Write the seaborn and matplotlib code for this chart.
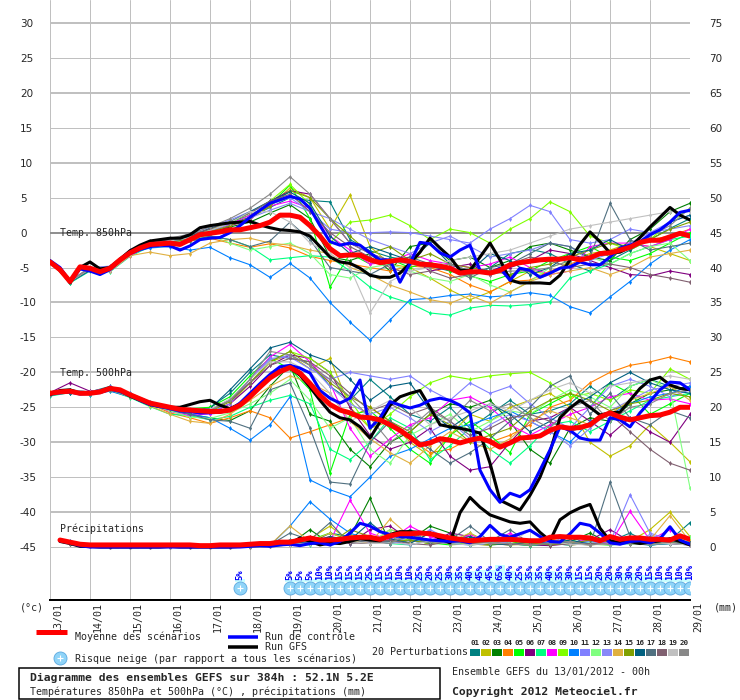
import numpy as np
import pandas as pd
import matplotlib
matplotlib.use("Agg")
import matplotlib.pyplot as plt
import matplotlib.transforms as mtransforms
from matplotlib.patches import Rectangle
import seaborn as sns

# Axe des temps (jours depuis le 13/01 00h)
dates = ["13/01", "14/01", "15/01", "16/01", "17/01", "18/01", "19/01", "20/01", "21/01",
         "22/01", "23/01", "24/01", "25/01", "26/01", "27/01", "28/01", "29/01"]
echeances_6h = np.arange(0, 385, 6) / 24.0
echeances_12h = np.arange(0, 385, 12) / 24.0
echeances_pluie_6h = np.arange(6, 385, 6) / 24.0
echeances_pluie_12h = np.arange(12, 385, 12) / 24.0

# Moyenne / controle / GFS, pas de 6h
moy_850 = [-4.2, -5.3, -7.0, -4.9, -5.1, -5.6, -5.1, -3.9, -2.9, -2.2,
           -1.7, -1.6, -1.5, -1.7, -1.0, -0.3, -0.1, 0.1, 0.4, 0.4,
           0.7, 1.0, 1.5, 2.5, 2.5, 2.2, 1.0, -0.5, -2.3, -3.3,
           -3.2, -3.2, -3.9, -4.3, -4.1, -3.9, -4.1, -4.5, -4.6, -4.8,
           -5.1, -5.8, -5.6, -5.6, -5.8, -5.4, -4.6, -4.3, -4.1, -3.9,
           -3.8, -3.8, -3.6, -3.9, -3.6, -3.0, -2.9, -2.5, -2.1, -1.4,
           -1.1, -1.1, -0.6, -0.1, -0.5]
gfs_850 = [-4.2, -5.2, -7.2, -5.0, -4.2, -5.2, -5.0, -3.8, -2.6, -1.8,
           -1.2, -1.0, -0.8, -0.8, -0.3, 0.7, 1.0, 1.2, 1.4, 1.5,
           1.6, 1.1, 0.7, 0.4, 0.3, 0.1, -0.5, -2.0, -3.5, -4.2,
           -4.4, -5.1, -6.1, -6.4, -6.4, -5.8, -4.4, -2.8, -0.8, -2.2,
           -3.5, -5.4, -5.4, -3.5, -1.5, -3.9, -6.8, -7.2, -7.2, -7.2,
           -7.3, -6.1, -3.9, -1.7, 0.1, -1.3, -2.9, -2.8, -2.1, -0.7,
           0.8, 2.2, 3.6, 2.5, 1.8]
ctrl_850 = [-4.0, -5.0, -7.0, -5.2, -5.5, -6.0, -5.3, -4.0, -3.0, -2.4,
            -2.0, -1.8, -1.9, -2.5, -1.9, -1.0, -0.8, -0.7, 0.0, 1.0,
            2.2, 3.2, 4.2, 4.7, 5.2, 4.8, 3.5, 1.0, -1.3, -1.8,
            -1.5, -1.8, -2.9, -3.9, -3.9, -7.1, -4.4, -1.4, -1.6, -2.9,
            -3.5, -2.5, -1.8, -5.4, -5.8, -5.1, -6.8, -5.1, -5.4, -6.4,
            -5.8, -5.1, -4.9, -4.2, -4.6, -4.6, -3.5, -2.2, -1.8, -1.3,
            -0.3, 0.4, 1.5, 2.9, 3.2]
moy_500 = [-23.0, -22.8, -22.7, -23.0, -23.0, -22.8, -22.3, -22.5, -23.2, -23.8,
           -24.4, -24.7, -25.0, -25.3, -25.4, -25.5, -25.6, -25.6, -25.4, -24.7,
           -23.5, -22.1, -20.8, -19.9, -19.3, -20.1, -21.6, -23.3, -24.6, -25.4,
           -25.8, -26.4, -26.5, -26.8, -27.5, -28.3, -29.3, -30.4, -30.1, -29.5,
           -29.7, -30.1, -29.7, -29.4, -29.9, -30.7, -30.1, -29.4, -29.3, -29.1,
           -28.3, -27.8, -28.0, -27.9, -27.5, -26.4, -25.8, -26.4, -26.8, -26.5,
           -26.2, -26.1, -25.7, -25.0, -25.0]
gfs_500 = [-23.2, -22.6, -22.5, -23.0, -23.0, -22.7, -22.2, -22.6, -23.4, -24.0,
           -24.6, -24.9, -25.0, -25.0, -24.6, -24.2, -24.0, -24.7, -25.2, -24.5,
           -23.3, -21.9, -20.6, -19.7, -19.4, -20.4, -22.1, -24.0, -25.7, -26.5,
           -26.8, -27.8, -29.4, -27.1, -24.7, -23.5, -23.0, -22.6, -25.0, -27.5,
           -27.8, -28.0, -28.3, -28.7, -33.0, -38.3, -39.0, -39.7, -37.6, -35.0,
           -31.4, -26.5, -25.1, -24.0, -25.0, -26.1, -25.8, -25.7, -24.0, -22.3,
           -21.1, -20.7, -21.8, -22.3, -22.5]
ctrl_500 = [-23.0, -22.9, -22.8, -23.1, -23.0, -22.9, -22.4, -22.7, -23.3, -24.0,
            -24.6, -24.9, -25.2, -25.5, -25.6, -25.8, -25.8, -25.7, -25.4, -24.4,
            -23.0, -21.6, -20.3, -19.2, -19.0, -19.4, -20.1, -22.6, -23.7, -24.4,
            -23.7, -21.1, -28.0, -26.5, -24.2, -24.7, -25.1, -24.7, -24.0, -23.7,
            -24.0, -24.7, -25.8, -34.0, -36.8, -38.6, -37.3, -37.8, -36.8, -34.0,
            -31.1, -27.8, -28.3, -29.4, -29.7, -29.7, -26.5, -26.8, -27.8, -25.8,
            -24.2, -22.5, -21.4, -21.5, -22.5]
moy_pluie = [1.0, 0.7, 0.4, 0.3, 0.3, 0.3, 0.3, 0.3, 0.3, 0.3,
             0.3, 0.3, 0.3, 0.3, 0.2, 0.2, 0.3, 0.3, 0.3, 0.4,
             0.5, 0.5, 0.7, 0.7, 1.0, 1.3, 1.0, 1.0, 1.1, 1.3,
             1.4, 1.4, 1.1, 1.6, 1.9, 1.9, 2.0, 1.9, 1.6, 1.3,
             1.1, 0.9, 1.0, 1.1, 1.1, 1.1, 1.0, 0.9, 0.9, 1.4,
             1.5, 1.4, 1.4, 1.3, 0.9, 1.5, 1.1, 1.3, 1.3, 1.1,
             1.1, 1.0, 1.6, 1.1]
gfs_pluie = [0.8, 0.5, 0.1, 0.1, 0.0, 0.0, 0.0, 0.0, 0.0, 0.0,
             0.0, 0.1, 0.0, 0.0, 0.0, 0.0, 0.0, 0.0, 0.1, 0.2,
             0.3, 0.4, 0.8, 0.5, 1.3, 0.8, 0.3, 0.6, 0.5, 0.8,
             1.2, 1.0, 0.9, 1.8, 2.2, 2.2, 2.1, 2.0, 1.2, 0.6,
             4.9, 7.1, 5.7, 4.6, 4.1, 3.6, 3.4, 3.6, 2.1, 0.9,
             3.9, 4.9, 5.6, 6.1, 2.7, 0.9, 0.6, 0.8, 0.5, 0.7,
             0.9, 1.2, 0.8, 0.3]
ctrl_pluie = [0.9, 0.6, 0.2, 0.0, 0.0, 0.0, 0.0, 0.0, 0.0, 0.0,
              0.0, 0.0, 0.0, 0.0, 0.0, 0.0, 0.0, 0.0, 0.0, 0.1,
              0.2, 0.1, 0.3, 0.4, 0.2, 0.5, 0.6, 0.3, 0.8, 2.0,
              3.4, 3.0, 2.2, 1.8, 1.5, 1.4, 1.2, 1.0, 0.9, 0.8,
              0.9, 0.6, 1.5, 3.1, 1.8, 1.4, 1.9, 2.4, 1.5, 0.8,
              0.7, 1.9, 3.4, 3.1, 2.0, 0.6, 0.4, 0.8, 0.9, 0.6,
              1.2, 2.9, 1.0, 0.4]

# Perturbations, pas de 12h : temperature 850 hPa
t850_01 = [-4.0, -7.2, -5.3, -5.0, -2.6, -1.4, -1.2, -0.5, 0.6, 1.3, 2.2,
           3.6, 5.0, 4.6, 4.4, -1.0, -2.6, -3.5, -4.0, -4.8, -5.5, -6.0,
           -5.0, -3.0, -2.4, -3.0, -4.5, -5.5, -4.0, -2.5, -1.0, 0.6, 2.0]
t850_02 = [-4.3, -6.9, -5.0, -4.9, -3.0, -1.9, -1.8, -0.9, 0.2, 1.0, 2.0,
           3.8, 6.4, 5.0, 0.5, 5.4, -2.0, -4.5, -5.0, -6.5, -8.2, -9.6,
           -8.5, -7.0, -5.5, -6.0, -4.0, -3.0, -2.5, -1.5, -2.0, -3.0, -4.0]
t850_03 = [-4.1, -7.1, -5.2, -5.3, -3.1, -1.6, -1.3, -0.8, 0.0, 0.8, 1.5,
           2.8, 4.0, 2.0, -3.5, -4.0, -3.0, -5.5, -2.0, -1.5, -4.0, -3.5,
           -5.0, -4.0, -2.0, -1.5, -2.5, -3.5, -4.0, -1.0, 0.5, 3.0, 4.2]
t850_04 = [-4.2, -7.0, -5.0, -5.2, -3.0, -2.0, -1.8, -1.2, -0.8, -1.5, -2.1,
           -1.6, -2.2, -3.4, -4.0, -4.5, -5.0, -5.5, -4.8, -5.0, -6.0, -7.5,
           -8.5, -7.0, -6.8, -5.5, -4.5, -3.5, -3.0, -2.0, -1.0, -0.5, 0.5]
t850_05 = [-4.2, -7.0, -5.2, -5.0, -2.8, -1.5, -1.4, -0.7, 0.3, 1.5, 2.5,
           4.0, 6.8, 2.0, -7.8, -3.0, -4.5, -3.8, -5.0, -4.2, -5.5, -6.2,
           -7.0, -6.0, -5.5, -4.0, -3.0, -2.0, -3.5, -4.0, -3.0, -1.5, 0.0]
t850_06 = [-4.4, -6.8, -5.3, -5.4, -3.2, -1.8, -1.5, -1.1, -0.3, 1.0, 1.8,
           4.5, 6.0, 5.5, 2.0, -1.5, -3.0, -4.0, -3.5, -5.5, -5.0, -4.5,
           -6.0, -5.0, -4.0, -2.5, -3.0, -4.0, -5.0, -6.0, -6.2, -5.5, -6.0]
t850_07 = [-4.0, -7.2, -5.5, -5.6, -3.4, -2.0, -1.7, -1.2, -0.5, -1.0, -2.0,
           -3.9, -3.6, -3.3, -3.5, -5.5, -7.8, -9.2, -10.1, -11.5, -11.8, -10.8,
           -10.4, -10.5, -10.3, -9.9, -6.5, -5.5, -4.5, -3.0, -2.0, -1.0, -0.5]
t850_08 = [-4.3, -6.9, -5.4, -5.5, -3.3, -1.8, -1.6, -1.0, 0.0, 1.2, 2.5,
           3.8, 4.5, 3.5, -0.5, -2.5, -4.5, -4.2, -3.0, -4.0, -4.5, -5.0,
           -4.5, -3.5, -5.0, -6.0, -5.5, -2.0, -1.5, -1.5, -2.0, -1.0, 0.5]
t850_09 = [-4.1, -7.0, -5.1, -5.1, -2.7, -1.5, -1.3, -0.7, 0.4, 1.6, 2.8,
           4.5, 6.9, 4.0, -1.5, 1.5, 1.8, 2.5, 1.0, -1.0, 0.5, 0.0,
           -1.5, 0.5, 2.0, 4.4, 3.0, -0.5, -1.5, -2.5, -1.0, 1.5, 3.5]
t850_10 = [-4.2, -7.1, -5.4, -5.3, -3.0, -2.2, -2.0, -2.5, -2.1, -3.6, -4.6,
           -6.4, -4.4, -6.5, -10.0, -12.8, -15.4, -12.5, -9.6, -9.4, -9.0, -8.8,
           -9.2, -9.0, -8.6, -9.0, -10.6, -11.5, -9.2, -7.0, -4.5, -2.5, -1.0]
t850_11 = [-4.0, -6.9, -5.0, -4.8, -2.5, -1.3, -1.0, -0.2, 0.8, 1.8, 3.0,
           4.0, 5.0, 3.0, 0.5, 0.0, 0.0, 0.1, 0.0, -0.5, -1.0, -1.5,
           0.5, 2.0, 3.9, 3.0, -1.0, -1.5, -1.0, 0.5, 0.0, 1.5, 2.5]
t850_12 = [-4.3, -7.0, -5.3, -5.0, -2.9, -1.7, -1.4, -1.0, -0.4, -1.5, -2.5,
           -2.0, -1.5, -3.0, -6.0, -6.5, -5.0, -4.5, -5.5, -6.5, -7.0, -6.0,
           -7.5, -8.5, -7.0, -5.0, -4.0, -3.5, -4.5, -3.0, -2.0, -1.5, -4.0]
t850_13 = [-4.1, -7.0, -5.1, -5.2, -2.7, -1.6, -1.4, -0.8, 0.3, 1.1, 2.1,
           3.2, 4.2, 3.0, 2.0, 0.5, -1.0, -2.0, -3.0, -1.5, -0.5, -2.0,
           -3.5, -3.0, -2.5, -1.5, -2.0, -4.0, -3.0, -1.5, 0.0, 0.5, 1.0]
t850_14 = [-4.2, -7.1, -5.3, -5.5, -3.3, -2.8, -3.3, -3.0, -1.5, -1.0, -0.8,
           -1.5, -1.8, -2.5, -3.0, -5.0, -6.0, -7.5, -8.5, -9.6, -10.1, -9.0,
           -10.1, -8.5, -7.0, -6.0, -5.5, -5.0, -6.0, -5.0, -3.5, -3.0, -2.5]
t850_15 = [-4.3, -7.0, -5.2, -5.1, -2.9, -1.7, -1.4, -0.9, 0.1, 1.0, 2.2,
           3.8, 6.0, 5.0, 2.0, -0.5, -3.0, -2.0, -4.0, -3.0, -4.5, -5.0,
           -5.5, -6.0, -5.0, -4.5, -3.5, -2.5, -1.5, -2.0, -1.0, 0.5, 1.5]
t850_16 = [-4.2, -7.1, -5.4, -5.2, -2.9, -1.6, -1.3, -0.6, 0.6, 1.5, 3.0,
           4.5, 5.8, 4.2, -0.5, -3.0, -2.0, -3.0, -4.0, -1.5, -4.5, -5.5,
           -3.0, -4.0, -6.0, -5.0, -3.0, -2.5, -1.0, -2.5, -0.5, 1.5, 2.5]
t850_17 = [-4.2, -7.0, -5.3, -5.1, -2.9, -1.8, -1.7, -1.2, -0.5, -1.0, -2.0,
           -1.2, 1.5, -1.0, -5.0, -5.5, -6.0, -4.5, -3.5, -4.5, -5.0, -6.5,
           -5.0, -4.5, -3.0, -1.5, -2.0, -3.5, 4.2, -1.0, -2.5, -2.0, -1.5]
t850_18 = [-4.1, -6.9, -5.1, -5.0, -2.7, -1.5, -1.0, -0.3, 0.5, 1.5, 2.8,
           4.5, 5.5, 3.0, 0.0, -2.0, -3.5, -5.0, -6.0, -5.5, -6.5, -6.0,
           -5.5, -4.5, -3.5, -4.0, -5.0, -4.5, -4.5, -5.0, -6.0, -6.5, -7.1]
t850_19 = [-4.3, -7.0, -5.2, -5.3, -3.0, -1.6, -1.2, -0.7, 0.3, 1.4, 3.0,
           3.0, 1.5, -1.5, -3.0, -5.0, -11.5, -7.0, -5.5, -5.0, -4.0, -3.5,
           -3.0, -2.5, -1.5, -0.5, 0.5, 1.0, 1.5, 2.0, 2.5, 3.0, 3.0]
t850_20 = [-4.2, -7.0, -5.1, -5.0, -2.6, -1.2, -0.8, -0.2, 0.8, 2.0, 3.5,
           5.5, 8.0, 5.5, 2.0, -1.5, -3.0, -4.0, -4.5, -5.0, -4.5, -5.5,
           -6.0, -5.5, -5.5, -5.0, -4.0, -3.5, -3.0, -2.0, -0.5, 1.0, 3.5]

# Perturbations, pas de 12h : temperature 500 hPa
t500_01 = [-23.3, -22.5, -22.8, -22.0, -23.0, -24.2, -25.3, -25.6, -25.0, -23.0, -20.0,
           -17.5, -18.0, -18.5, -22.0, -24.0, -21.0, -23.5, -26.0, -27.0, -25.0, -28.0,
           -26.0, -24.0, -26.0, -25.5, -24.5, -22.0, -24.0, -22.0, -21.0, -22.0, -22.5]
t500_02 = [-22.8, -22.9, -23.1, -22.5, -23.4, -24.6, -25.1, -25.5, -25.8, -24.5, -21.5,
           -18.5, -17.5, -19.5, -18.0, -25.0, -28.0, -27.0, -30.0, -32.0, -29.0, -26.0,
           -27.0, -25.0, -24.0, -23.0, -25.0, -30.0, -32.0, -30.5, -27.5, -30.0, -32.8]
t500_03 = [-23.1, -22.6, -22.9, -22.2, -23.1, -24.3, -25.2, -26.0, -26.5, -26.9, -25.5,
           -22.0, -19.0, -26.0, -27.0, -31.0, -33.5, -30.0, -28.5, -26.0, -24.5, -25.0,
           -24.0, -27.0, -31.0, -33.0, -28.0, -26.5, -27.0, -24.5, -23.0, -22.5, -22.0]
t500_04 = [-23.0, -22.8, -23.0, -22.4, -23.3, -24.5, -25.8, -26.5, -27.3, -26.5, -25.5,
           -26.5, -29.4, -28.5, -27.5, -26.5, -25.0, -27.0, -29.5, -31.5, -31.0, -29.5,
           -30.0, -29.0, -27.5, -25.0, -24.0, -21.5, -20.0, -19.0, -18.5, -17.8, -18.5]
t500_05 = [-23.2, -22.7, -22.8, -22.3, -23.2, -24.4, -25.0, -25.2, -25.0, -23.5, -20.5,
           -18.0, -19.5, -22.5, -34.4, -26.0, -25.5, -28.0, -31.0, -33.0, -29.0, -27.0,
           -29.0, -31.5, -26.0, -24.5, -23.0, -25.0, -21.5, -23.0, -26.0, -24.5, -23.0]
t500_06 = [-22.9, -21.5, -22.7, -22.3, -23.3, -24.6, -25.5, -26.0, -25.8, -24.5, -22.0,
           -19.0, -17.5, -18.0, -20.0, -25.0, -29.0, -31.0, -30.0, -28.0, -32.0, -34.0,
           -33.5, -30.0, -27.0, -26.5, -25.0, -27.0, -29.0, -26.5, -28.5, -30.0, -26.0]
t500_07 = [-23.4, -22.9, -23.2, -22.6, -23.6, -24.9, -26.0, -26.2, -26.8, -26.3, -25.0,
           -24.0, -23.3, -24.5, -31.0, -32.5, -30.0, -26.5, -28.0, -32.5, -30.5, -28.0,
           -31.0, -33.0, -30.5, -27.5, -27.0, -28.5, -27.0, -25.5, -24.0, -23.5, -23.0]
t500_08 = [-23.0, -22.7, -23.0, -22.1, -23.2, -24.5, -25.6, -26.2, -25.9, -24.5, -21.0,
           -17.8, -16.0, -18.5, -21.5, -28.0, -32.0, -29.5, -27.5, -26.5, -24.0, -23.5,
           -25.0, -27.5, -29.0, -27.5, -26.0, -25.0, -23.5, -23.0, -24.0, -23.8, -24.5]
t500_09 = [-23.1, -22.8, -22.9, -22.4, -23.3, -24.4, -25.1, -25.3, -25.5, -24.0, -21.5,
           -18.5, -17.0, -18.0, -20.0, -24.0, -28.0, -26.0, -23.5, -21.5, -20.5, -21.0,
           -20.5, -20.2, -20.0, -21.5, -23.5, -23.0, -24.0, -22.5, -23.0, -19.5, -21.0]
t500_10 = [-23.3, -22.9, -23.2, -22.7, -23.5, -24.6, -25.4, -26.0, -26.5, -28.0, -29.7,
           -27.5, -23.5, -35.4, -36.8, -37.8, -35.0, -32.0, -31.0, -29.5, -28.0, -27.5,
           -26.5, -25.5, -27.0, -28.5, -30.0, -27.0, -26.0, -24.5, -23.5, -23.0, -22.0]
t500_11 = [-22.9, -22.6, -22.8, -22.2, -23.0, -24.2, -25.0, -25.5, -25.7, -24.5, -21.0,
           -18.0, -17.8, -19.5, -21.0, -20.0, -20.5, -21.0, -20.5, -22.5, -24.0, -21.5,
           -23.0, -22.0, -24.5, -26.5, -28.0, -25.0, -22.0, -21.0, -22.0, -23.5, -22.5]
t500_12 = [-23.0, -22.8, -23.1, -22.5, -23.4, -24.7, -25.5, -26.4, -26.6, -25.8, -24.5,
           -23.0, -21.0, -24.0, -28.0, -26.5, -31.0, -33.0, -29.0, -27.5, -26.0, -28.5,
           -27.0, -25.5, -26.0, -24.0, -22.5, -23.5, -25.0, -22.0, -21.0, -22.5, -36.5]
t500_13 = [-23.2, -22.6, -22.9, -22.3, -23.1, -24.3, -25.2, -25.6, -25.4, -24.0, -21.0,
           -18.2, -17.5, -19.0, -22.0, -24.5, -26.0, -25.0, -26.5, -28.5, -27.0, -29.5,
           -27.5, -26.0, -27.0, -28.5, -30.5, -28.0, -25.5, -24.0, -22.5, -22.0, -21.5]
t500_14 = [-23.1, -22.8, -23.0, -22.5, -23.5, -24.8, -26.0, -27.0, -27.3, -26.0, -24.0,
           -22.0, -20.5, -21.5, -23.0, -27.0, -29.5, -31.5, -33.0, -30.5, -28.5, -30.0,
           -31.0, -29.5, -27.0, -25.5, -26.5, -27.5, -26.0, -24.0, -23.0, -22.0, -24.0]
t500_15 = [-23.0, -22.7, -23.0, -22.4, -23.2, -24.5, -25.2, -25.6, -25.6, -24.2, -21.5,
           -18.5, -17.0, -19.0, -21.5, -23.5, -25.0, -27.0, -28.5, -26.0, -27.5, -30.0,
           -29.0, -28.0, -25.5, -24.0, -23.0, -24.0, -25.5, -24.5, -24.0, -23.0, -23.5]
t500_16 = [-23.1, -22.9, -23.0, -22.4, -23.2, -24.4, -25.1, -25.4, -25.2, -22.5, -19.5,
           -16.5, -15.7, -17.5, -18.5, -21.0, -24.0, -22.0, -21.5, -25.5, -28.0, -26.0,
           -24.5, -26.0, -28.5, -27.0, -25.0, -23.5, -21.5, -20.0, -21.5, -22.5, -23.0]
t500_17 = [-23.2, -22.8, -23.1, -22.5, -23.4, -24.6, -25.3, -26.0, -26.8, -27.0, -28.0,
           -22.5, -21.5, -28.0, -35.7, -36.0, -30.0, -27.0, -29.0, -31.0, -33.0, -31.5,
           -29.5, -27.0, -25.0, -22.0, -20.5, -26.0, -23.0, -26.5, -27.5, -25.5, -26.5]
t500_18 = [-22.9, -22.7, -22.9, -22.2, -23.1, -24.3, -25.0, -25.3, -25.3, -24.0, -21.5,
           -19.0, -18.0, -18.5, -20.5, -23.0, -25.5, -24.5, -26.0, -25.0, -27.0, -29.0,
           -28.0, -26.5, -26.0, -27.0, -28.5, -27.5, -26.0, -28.5, -31.0, -33.0, -34.0]
t500_19 = [-23.0, -22.6, -22.8, -22.3, -23.1, -24.2, -25.0, -25.3, -25.3, -23.8, -21.0,
           -18.5, -18.5, -20.0, -23.0, -27.0, -25.5, -24.0, -25.0, -27.5, -26.5, -25.5,
           -24.5, -25.5, -24.0, -22.5, -21.5, -23.0, -22.0, -21.5, -21.0, -20.5, -21.0]
t500_20 = [-23.1, -22.7, -23.0, -22.3, -23.2, -24.4, -25.1, -25.4, -25.5, -24.0, -21.0,
           -17.0, -17.5, -19.0, -21.0, -23.5, -26.5, -30.0, -28.0, -25.5, -27.0, -24.0,
           -25.5, -24.5, -26.5, -28.0, -25.0, -24.0, -27.0, -25.0, -24.5, -23.0, -22.5]

# Perturbations, pas de 12h : precipitations (mm)
rr_01 = [0.6, 0.2, 0, 0, 0, 0, 0, 0, 0, 0.1, 0.3, 1.0, 0.5, 2.0, 1.5, 1.0,
         0.8, 2.5, 0.5, 1.5, 0.3, 1.0, 0.5, 0.2, 0.4, 1.5, 0.3, 0.8, 2.0, 0.5, 1.0, 3.5]
rr_02 = [0.5, 0.1, 0, 0, 0, 0, 0, 0, 0, 0, 0.2, 0.5, 1.2, 3.0, 0.8, 0.5,
         1.5, 0.6, 2.0, 0.3, 0.5, 0.2, 1.8, 0.4, 1.0, 0.3, 0.5, 1.5, 0.8, 2.5, 5.0, 1.5]
rr_03 = [0.7, 0.1, 0, 0, 0, 0, 0, 0, 0, 0, 0.1, 0.4, 2.5, 0.5, 1.5, 7.0,
         0.5, 1.0, 3.0, 2.0, 0.3, 0.5, 1.0, 0.5, 0.5, 0.8, 2.0, 0.5, 1.0, 0.5, 0.8, 0.5]
rr_04 = [0.5, 0.1, 0, 0, 0, 0, 0, 0, 0, 0, 0.3, 0.8, 1.5, 0.5, 1.0, 0.5,
         2.5, 1.8, 0.8, 1.5, 1.0, 0.5, 0.3, 0.8, 1.2, 0.5, 0.3, 1.0, 0.5, 0.3, 0.6, 0.4]
rr_05 = [0.6, 0.2, 0, 0, 0, 0, 0, 0, 0, 0.1, 0.2, 0.5, 1.0, 2.0, 1.0, 0.5,
         0.8, 1.5, 0.6, 0.3, 2.0, 0.5, 0.8, 0.3, 0.5, 1.0, 0.4, 0.3, 0.5, 0.8, 1.2, 0.5]
rr_06 = [0.5, 0.1, 0, 0, 0, 0, 0, 0, 0, 0, 0.1, 0.3, 0.8, 1.5, 0.5, 2.5,
         3.0, 1.0, 0.5, 2.0, 1.5, 0.8, 0.5, 0.3, 0.2, 0.5, 1.0, 2.5, 0.8, 1.0, 0.5, 0.3]
rr_07 = [0.7, 0.2, 0, 0, 0, 0, 0, 0, 0, 0, 0.2, 0.5, 0.3, 1.0, 0.8, 1.2,
         0.5, 0.3, 1.0, 0.5, 0.8, 0.3, 0.5, 0.2, 0.5, 0.3, 0.8, 0.4, 0.6, 0.3, 0.5, 0.8]
rr_08 = [0.5, 0.1, 0, 0, 0, 0, 0, 0, 0, 0, 0.1, 0.5, 1.5, 0.8, 6.7, 2.0,
         1.0, 3.0, 1.5, 0.5, 1.8, 0.6, 2.0, 0.5, 0.8, 0.5, 1.2, 0.5, 5.1, 1.0, 2.5, 0.8]
rr_09 = [0.6, 0.1, 0, 0, 0, 0, 0, 0, 0, 0, 0.2, 0.6, 1.0, 0.5, 1.8, 1.0,
         0.5, 1.2, 0.4, 0.8, 0.3, 1.0, 0.5, 0.3, 0.6, 0.4, 0.5, 0.3, 0.8, 0.4, 0.6, 1.2]
rr_10 = [0.8, 0.2, 0, 0, 0, 0, 0, 0, 0, 0.1, 0.2, 3.0, 6.5, 4.0, 2.0, 1.0,
         0.5, 1.0, 0.8, 0.5, 0.3, 0.8, 1.5, 1.0, 0.5, 0.3, 0.8, 1.0, 0.5, 0.3, 0.5, 0.4]
rr_11 = [0.5, 0.1, 0, 0, 0, 0, 0, 0, 0, 0, 0.2, 0.4, 0.8, 0.5, 1.0, 0.6,
         1.5, 0.8, 2.5, 1.0, 0.5, 0.3, 0.8, 1.0, 0.5, 0.8, 0.4, 0.6, 7.5, 2.0, 1.0, 0.5]
rr_12 = [0.6, 0.1, 0, 0, 0, 0, 0, 0, 0, 0, 0.1, 0.3, 0.5, 1.0, 0.8, 0.5,
         2.5, 1.5, 0.5, 1.0, 0.4, 0.6, 0.3, 0.5, 0.5, 0.3, 0.6, 1.0, 0.4, 0.8, 0.5, 1.4]
rr_13 = [0.5, 0.2, 0, 0, 0, 0, 0, 0, 0, 0, 0.1, 0.5, 1.2, 0.8, 1.5, 0.5,
         0.8, 0.3, 1.0, 0.5, 0.8, 1.2, 0.4, 0.6, 1.5, 0.5, 0.8, 0.3, 0.5, 1.8, 0.6, 0.4]
rr_14 = [0.6, 0.1, 0, 0, 0, 0, 0, 0, 0, 0.1, 0.3, 3.0, 0.8, 2.0, 1.0, 0.5,
         4.0, 1.5, 0.5, 0.8, 2.0, 0.5, 0.3, 0.4, 0.5, 0.8, 0.3, 0.5, 0.6, 1.0, 4.5, 0.8]
rr_15 = [0.5, 0.1, 0, 0, 0, 0, 0, 0, 0, 0, 0.2, 0.6, 1.0, 0.5, 2.5, 1.5,
         0.8, 1.0, 0.5, 1.5, 0.8, 0.3, 0.5, 0.6, 0.3, 0.5, 1.0, 0.8, 0.5, 0.4, 0.6, 0.5]
rr_16 = [0.6, 0.2, 0, 0, 0, 0, 0, 0, 0, 0, 0.1, 0.8, 0.5, 1.5, 1.0, 3.5,
         1.2, 0.5, 2.0, 0.8, 1.5, 0.5, 0.3, 0.8, 0.5, 1.0, 0.4, 0.5, 0.8, 0.3, 0.5, 0.6]
rr_17 = [0.5, 0.1, 0, 0, 0, 0, 0, 0, 0, 0.1, 0.3, 2.0, 1.0, 3.5, 0.5, 1.0,
         0.8, 1.5, 0.5, 1.0, 3.0, 0.8, 2.5, 0.5, 1.0, 0.5, 0.3, 9.3, 1.5, 0.5, 0.8, 0.6]
rr_18 = [0.5, 0.1, 0, 0, 0, 0, 0, 0, 0, 0, 0.1, 0.3, 0.5, 0.8, 0.6, 0.5,
         1.0, 0.5, 0.3, 0.8, 0.5, 0.6, 0.4, 0.3, 0.5, 0.3, 0.5, 0.4, 0.6, 1.5, 0.5, 0.3]
rr_19 = [0.6, 0.1, 0, 0, 0, 0, 0, 0, 0, 0, 0.1, 0.3, 0.5, 0.3, 0.8, 0.5,
         0.6, 0.4, 0.8, 0.5, 0.3, 0.6, 0.5, 2.5, 0.8, 0.4, 0.3, 0.5, 0.6, 0.4, 0.5, 0.3]
rr_20 = [0.5, 0.1, 0, 0, 0, 0, 0, 0, 0, 0, 0.2, 0.8, 1.5, 0.5, 1.0, 0.8,
         0.5, 2.0, 0.8, 0.5, 1.0, 0.6, 0.5, 0.3, 0.5, 0.8, 0.3, 0.6, 0.5, 0.4, 0.8, 0.5]

# Risque neige (%) : 17/01 18h, puis du 19/01 00h au 29/01 00h toutes les 6h
neige_isole_jour = 4.75
neige_isole = 5
neige_jours = np.arange(144, 385, 6) / 24.0
neige = [5, 5, 5, 10, 10, 15, 15, 15, 25, 15, 15, 10, 10, 25, 20, 25, 30, 35, 40, 45, 45,
         65, 40, 25, 35, 35, 40, 35, 30, 15, 15, 20, 20, 30, 30, 20, 15, 10, 10, 10, 10]

codes = ["01", "02", "03", "04", "05", "06", "07", "08", "09", "10",
         "11", "12", "13", "14", "15", "16", "17", "18", "19", "20"]
couleurs = ["#008080", "#c0c000", "#008000", "#ff8000", "#00ff00", "#800080", "#00ff80",
            "#ff00ff", "#80ff00", "#0080ff", "#8080ff", "#80ff80", "#8888f8", "#e0b040",
            "#80a000", "#006080", "#507080", "#806070", "#c0c0c0", "#888888"]

t850 = [t850_01, t850_02, t850_03, t850_04, t850_05, t850_06, t850_07, t850_08, t850_09, t850_10,
        t850_11, t850_12, t850_13, t850_14, t850_15, t850_16, t850_17, t850_18, t850_19, t850_20]
t500 = [t500_01, t500_02, t500_03, t500_04, t500_05, t500_06, t500_07, t500_08, t500_09, t500_10,
        t500_11, t500_12, t500_13, t500_14, t500_15, t500_16, t500_17, t500_18, t500_19, t500_20]
pluie = [rr_01, rr_02, rr_03, rr_04, rr_05, rr_06, rr_07, rr_08, rr_09, rr_10,
         rr_11, rr_12, rr_13, rr_14, rr_15, rr_16, rr_17, rr_18, rr_19, rr_20]

# Table longue des perturbations (precipitations decalees sur l'axe : 0 mm = -45)
rows = []
for code, a850, a500, rr in zip(codes, t850, t500, pluie):
    for t, v in zip(echeances_12h, a850):
        rows.append((code, "850", t, v))
    for t, v in zip(echeances_12h, a500):
        rows.append((code, "500", t, v))
    for t, v in zip(echeances_pluie_12h, rr):
        rows.append((code, "rr", t, v - 45))
df = pd.DataFrame(rows, columns=["membre", "niveau", "jour", "valeur"])

sns.set_theme(style="white")
plt.rcParams["font.family"] = ["DejaVu Sans Mono", "DejaVu Sans"]
MONO = "DejaVu Sans Mono"
PX = 0.72  # 1 pixel en points a 100 dpi

fig = plt.figure(figsize=(7.4, 7.0), dpi=100)
fig.patch.set_facecolor("white")
ax = fig.add_axes([50 / 740, 100 / 700, 640 / 740, 600 / 700])
ymin, ymax = -52.58, 33.29
ax.set_xlim(0, 16)
ax.set_ylim(ymin, ymax)
ax.set_facecolor("white")

# grille
for d in range(17):
    ax.axvline(d, color="#c0c0c0", lw=PX, zorder=0)
for v in range(-45, 35, 5):
    if v == 0:
        ax.axhline(v, color="#909090", lw=2 * PX, zorder=0.5)
    else:
        ax.axhline(v, color="#c0c0c0", lw=(2 if v % 10 == 0 else 1) * PX, zorder=0)

# perturbations
palette = dict(zip(codes, couleurs))
for niveau in ["850", "500", "rr"]:
    sns.lineplot(data=df[df["niveau"] == niveau], x="jour", y="valeur", hue="membre",
                 palette=palette, estimator=None, sort=False, legend=False,
                 lw=0.8, marker="d", markersize=2.6, markeredgewidth=0, ax=ax, zorder=2)

# GFS, controle, moyenne
sns.lineplot(x=echeances_6h, y=gfs_850, color="black", lw=2.2, ax=ax, zorder=3)
sns.lineplot(x=echeances_6h, y=gfs_500, color="black", lw=2.2, ax=ax, zorder=3)
sns.lineplot(x=echeances_pluie_6h, y=np.array(gfs_pluie) - 45, color="black", lw=2.2, ax=ax, zorder=3)
sns.lineplot(x=echeances_6h, y=ctrl_850, color="#0000ff", lw=2.2, ax=ax, zorder=4)
sns.lineplot(x=echeances_6h, y=ctrl_500, color="#0000ff", lw=2.2, ax=ax, zorder=4)
sns.lineplot(x=echeances_pluie_6h, y=np.array(ctrl_pluie) - 45, color="#0000ff", lw=2.2, ax=ax, zorder=4)
sns.lineplot(x=echeances_6h, y=moy_850, color="#ff0000", lw=3.6, ax=ax, zorder=5)
sns.lineplot(x=echeances_6h, y=moy_500, color="#ff0000", lw=3.6, ax=ax, zorder=5)
sns.lineplot(x=echeances_pluie_6h, y=np.array(moy_pluie) - 45, color="#ff0000", lw=3.6, ax=ax, zorder=5)

ax.text(0.25, 0, "Temp. 850hPa", fontsize=7.1, family=MONO, va="center", zorder=6)
ax.text(0.25, -20.1, "Temp. 500hPa", fontsize=7.1, family=MONO, va="center", zorder=6)
ax.text(0.25, -42.4, "Précipitations", fontsize=7.1, family=MONO, va="center", zorder=6)

# risque neige
neige_x = np.concatenate([[neige_isole_jour], neige_jours])
neige_v = np.array([neige_isole] + neige)
ax.bar(neige_x, 0.3 + 0.033 * neige_v, bottom=-50.0, width=0.25, color="#c8ffff",
       linewidth=0, zorder=1)
ax.scatter(neige_x, np.full(len(neige_x), -50.86), s=88, c="#90d4f8",
           edgecolors="#5aa8e0", linewidths=0.6, zorder=3)
ax.scatter(neige_x, np.full(len(neige_x), -50.86), s=20, marker="+", c="white",
           linewidths=0.8, zorder=4)
for x, r in zip(neige_x, neige_v):
    ax.text(x, -49.75, f"{r}%", rotation=90, ha="center", va="bottom", fontsize=6.4,
            family=MONO, fontweight="bold", color="#0000ff", zorder=6)

# axes
for s in ["top", "left", "right"]:
    ax.spines[s].set_visible(False)
ax.spines["bottom"].set_color("black")
ax.spines["bottom"].set_linewidth(2 * PX)
ax.set_xticks([])
ax.set_xlabel("")
ax.set_ylabel("")
ax.set_yticks(range(-45, 35, 5))
ax.set_yticklabels([str(v) for v in range(-45, 35, 5)])
ax.tick_params(axis="y", length=0, pad=30 * PX, labelsize=7.5)
for lab in ax.get_yticklabels():
    lab.set_ha("left")
    lab.set_fontfamily("DejaVu Sans")

droite = ax.twinx()
droite.set_ylim(ymin + 45, ymax + 45)
droite.set_yticks(range(0, 80, 5))
droite.set_yticklabels([str(v) for v in range(0, 80, 5)])
droite.tick_params(axis="y", length=0, pad=19 * PX, labelsize=7.5)
for lab in droite.get_yticklabels():
    lab.set_fontfamily("DejaVu Sans")
for s in droite.spines.values():
    s.set_visible(False)
droite.patch.set_visible(False)

# dates
decal = mtransforms.ScaledTranslation(8 / 100, -2 / 100, fig.dpi_scale_trans)
trans = mtransforms.blended_transform_factory(ax.transData, ax.transAxes) + decal
for d, lab in enumerate(dates):
    ax.text(d, 0, lab, rotation=90, ha="center", va="top", fontsize=7.2,
            family=MONO, transform=trans, clip_on=False)

# legende et cartouche (coordonnees pixel)
ov = fig.add_axes([0, 0, 1, 1])
ov.set_xlim(0, 740)
ov.set_ylim(700, 0)
ov.axis("off")
txt = dict(fontsize=7.2, family=MONO, va="center")
ov.text(20, 607, "(°c)", **txt)
ov.text(714, 607, "(mm)", **txt)
ov.plot([36, 67], [632, 632], color="#ff0000", lw=5 * PX, solid_capstyle="butt")
ov.text(75, 637, "Moyenne des scénarios", **txt)
ov.plot([228, 258], [637, 637], color="#0000ff", lw=3.5 * PX, solid_capstyle="butt")
ov.text(265, 637, "Run de contrôle", **txt)
ov.plot([228, 258], [647, 647], color="black", lw=3.5 * PX, solid_capstyle="butt")
ov.text(265, 647, "Run GFS", **txt)
ov.scatter([60], [658], s=88, c="#90d4f8", edgecolors="#5aa8e0", linewidths=0.6)
ov.scatter([60], [658], s=20, marker="+", c="white", linewidths=0.8)
ov.text(75, 659, "Risque neige (par rapport a tous les scénarios)", **txt)
ov.text(372, 652, "20 Perturbations", **txt)
for k, (code, col) in enumerate(zip(codes, couleurs)):
    ov.add_patch(Rectangle((470 + 11 * k, 649), 10, 7, color=col, lw=0))
    ov.text(475 + 11 * k, 643, code, fontsize=5.4, family=MONO, fontweight="bold",
            ha="center", va="center")
ov.add_patch(Rectangle((19, 668), 421, 31, fill=False, edgecolor="black", lw=1.5 * PX))
ov.text(30, 678, "Diagramme des ensembles GEFS sur 384h : 52.1N 5.2E", fontsize=8.2,
        family=MONO, fontweight="bold", va="center")
ov.text(30, 692, "Températures 850hPa et 500hPa (°C) , précipitations (mm)", **txt)
ov.text(452, 672, "Ensemble GEFS du 13/01/2012 - 00h", **txt)
ov.text(452, 692, "Copyright 2012 Meteociel.fr", fontsize=8.2, family=MONO,
        fontweight="bold", va="center")

fig.savefig("out.png", dpi=100)
